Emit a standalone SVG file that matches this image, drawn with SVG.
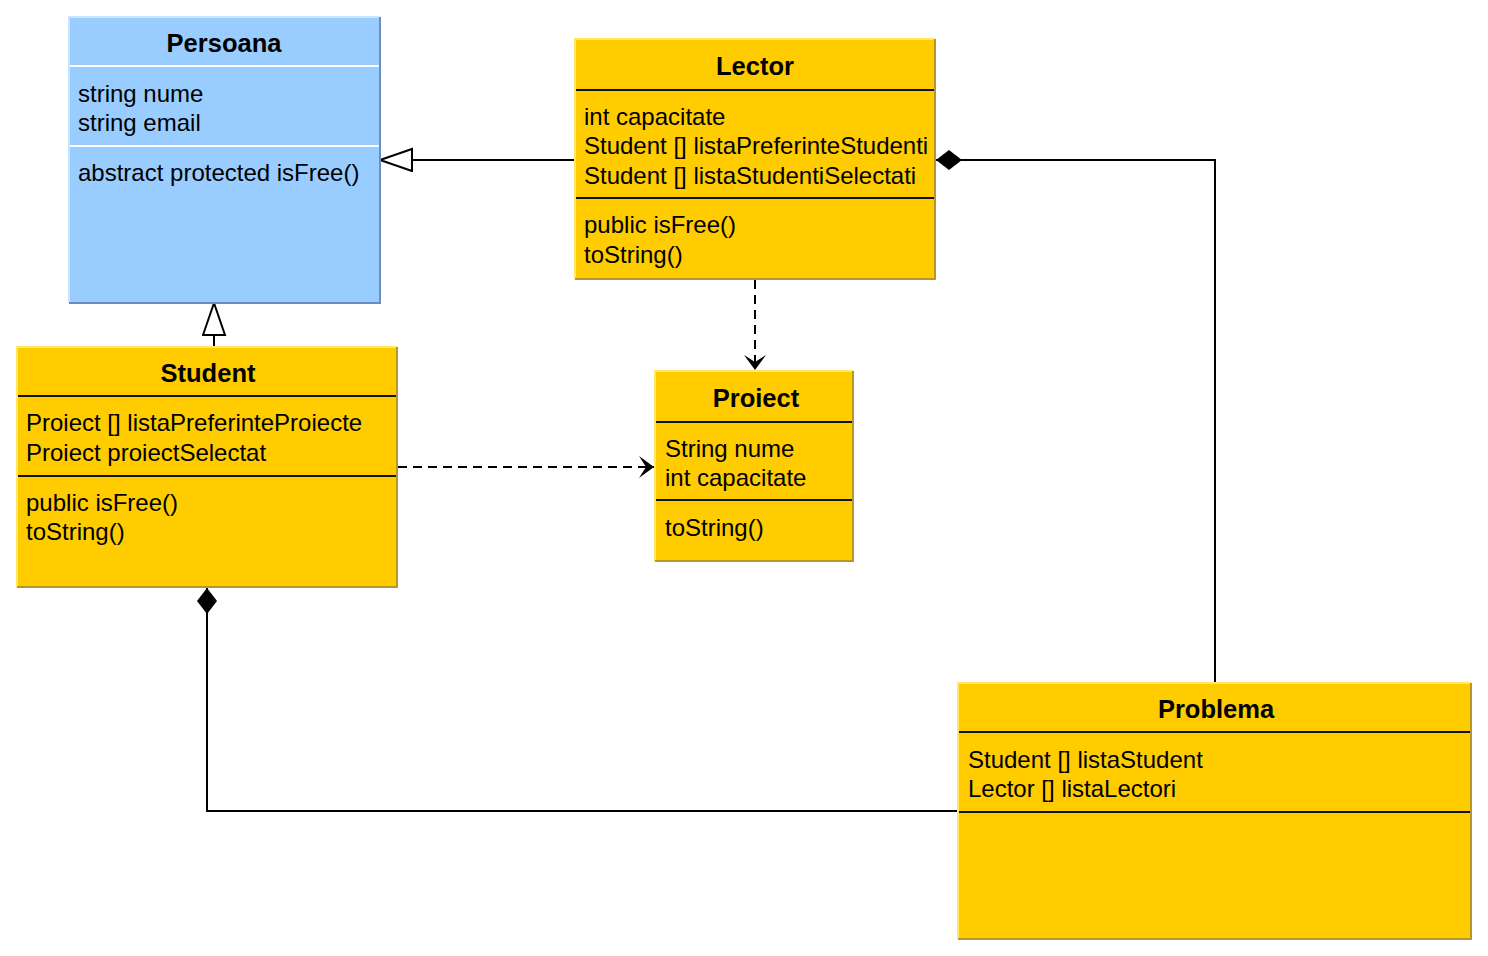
<svg xmlns="http://www.w3.org/2000/svg" width="1488" height="956" viewBox="0 0 1488 956">
<style>
.fillY{fill:#FFCC00}
.fillB{fill:#99CCFF}
.hiY{stroke:#FFE866;stroke-width:2;fill:none}
.loY{stroke:#B8962E;stroke-width:2;fill:none}
.hiB{stroke:#C8E4FF;stroke-width:2;fill:none}
.loB{stroke:#6C8EBF;stroke-width:2;fill:none}
.sepK{stroke:#111;stroke-width:2}
.sepW{stroke:#FFFFFF;stroke-width:2}
.t{font-family:"Liberation Sans",Arial,sans-serif;font-size:25.5px;font-weight:bold;fill:#000;text-anchor:middle}
.a{font-family:"Liberation Sans",Arial,sans-serif;font-size:24px;fill:#000}
.ln{stroke:#000;stroke-width:2;fill:none}
.dash{stroke:#000;stroke-width:2;fill:none;stroke-dasharray:9,6}
</style>
<defs>
<marker id="tri" markerUnits="userSpaceOnUse" markerWidth="40" markerHeight="30" refX="33" refY="12" orient="auto">
<path d="M1,1 L33,12 L1,23 Z" fill="#fff" stroke="#000" stroke-width="2"/>
</marker>
<marker id="open" markerUnits="userSpaceOnUse" markerWidth="20" markerHeight="26" refX="16" refY="12" orient="auto">
<path d="M16,12 L1,1 L8,12 L1,23 Z" fill="#000"/>
</marker>
<marker id="dia" markerUnits="userSpaceOnUse" markerWidth="30" markerHeight="24" refX="1" refY="10" orient="auto">
<path d="M1,10 L14,0 L27,10 L14,20 Z" fill="#000"/>
</marker>
</defs>

<g id="connectors">
<path class="ln" d="M575,160 L380,160" marker-end="url(#tri)"/>
<path class="ln" d="M214,347 L214,303" marker-end="url(#tri)"/>
<path class="dash" d="M755,280 L755,370" marker-end="url(#open)"/>
<path class="dash" d="M398,467 L654,467" marker-end="url(#open)"/>
<path class="ln" d="M936,160 L1215,160 L1215,683" marker-start="url(#dia)"/>
<path class="ln" d="M207,588 L207,811 L958,811" marker-start="url(#dia)"/>
</g>

<g id="Persoana">
<rect class="fillB" x="69" y="17" width="311" height="286"/>
<path class="hiB" d="M69,303 L69,17 L380,17"/>
<path class="loB" d="M380,17 L380,303 L69,303"/>
<line class="sepW" x1="70" y1="66" x2="379" y2="66"/>
<line class="sepW" x1="70" y1="146" x2="379" y2="146"/>
<text class="t" x="224" y="52">Persoana</text>
<text class="a" x="78" y="102">string nume</text>
<text class="a" x="78" y="131">string email</text>
<text class="a" x="78" y="181">abstract protected isFree()</text>
</g>

<g id="Lector">
<rect class="fillY" x="575" y="39" width="360" height="240"/>
<path class="hiY" d="M575,279 L575,39 L935,39"/>
<path class="loY" d="M935,39 L935,279 L575,279"/>
<line class="sepK" x1="576" y1="90" x2="934" y2="90"/>
<line class="sepK" x1="576" y1="198" x2="934" y2="198"/>
<text class="t" x="755" y="75">Lector</text>
<text class="a" x="584" y="125">int capacitate</text>
<text class="a" x="584" y="154">Student [] listaPreferinteStudenti</text>
<text class="a" x="584" y="184">Student [] listaStudentiSelectati</text>
<text class="a" x="584" y="233">public isFree()</text>
<text class="a" x="584" y="263">toString()</text>
</g>

<g id="Student">
<rect class="fillY" x="17" y="347" width="380" height="240"/>
<path class="hiY" d="M17,587 L17,347 L397,347"/>
<path class="loY" d="M397,347 L397,587 L17,587"/>
<line class="sepK" x1="18" y1="396" x2="396" y2="396"/>
<line class="sepK" x1="18" y1="476" x2="396" y2="476"/>
<text class="t" x="208" y="382">Student</text>
<text class="a" x="26" y="431">Proiect [] listaPreferinteProiecte</text>
<text class="a" x="26" y="461">Proiect proiectSelectat</text>
<text class="a" x="26" y="511">public isFree()</text>
<text class="a" x="26" y="540">toString()</text>
</g>

<g id="Proiect">
<rect class="fillY" x="655" y="371" width="198" height="190"/>
<path class="hiY" d="M655,561 L655,371 L853,371"/>
<path class="loY" d="M853,371 L853,561 L655,561"/>
<line class="sepK" x1="656" y1="422" x2="852" y2="422"/>
<line class="sepK" x1="656" y1="500" x2="852" y2="500"/>
<text class="t" x="756" y="407">Proiect</text>
<text class="a" x="665" y="457">String nume</text>
<text class="a" x="665" y="486">int capacitate</text>
<text class="a" x="665" y="536">toString()</text>
</g>

<g id="Problema">
<rect class="fillY" x="958" y="683" width="513" height="256"/>
<path class="hiY" d="M958,939 L958,683 L1471,683"/>
<path class="loY" d="M1471,683 L1471,939 L958,939"/>
<line class="sepK" x1="959" y1="732" x2="1470" y2="732"/>
<line class="sepK" x1="959" y1="812" x2="1470" y2="812"/>
<text class="t" x="1216" y="718">Problema</text>
<text class="a" x="968" y="768">Student [] listaStudent</text>
<text class="a" x="968" y="797">Lector [] listaLectori</text>
</g>
</svg>
